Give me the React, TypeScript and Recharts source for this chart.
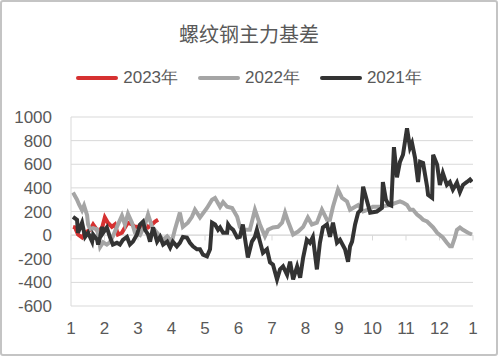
import React from 'react';
import { LineChart, Line, XAxis, YAxis, CartesianGrid, ReferenceLine } from 'recharts';

const title = '螺纹钢主力基差';
const seriesNames = ['2023年', '2022年', '2021年'];
const seriesColors = ['#d63131', '#a5a5a5', '#333333'];
const monthTicks = [0, 1, 2, 3, 4, 5, 6, 7, 8, 9, 10, 11, 12];
const monthLabels = ['1', '2', '3', '4', '5', '6', '7', '8', '9', '10', '11', '12', '1'];
const valueTicks = [-600, -400, -200, 0, 200, 400, 600, 800, 1000];

// [month offset from Jan 1, basis]
const s2023: [number, number][] = [
  [0.06, 70], [0.12, 65], [0.21, 5], [0.33, -20], [0.42, 20], [0.57, 45], [0.66, 90],
  [0.81, 30], [0.93, 65], [1.01, 150], [1.1, 105], [1.22, 70], [1.31, 90], [1.4, 5],
  [1.52, 20], [1.61, 65], [1.7, 105], [1.82, 90], [1.91, 70], [2.06, 70], [2.21, 90],
  [2.3, 65], [2.42, 90], [2.51, 115], [2.6, 130],
];

const s2022: [number, number][] = [
  [0.06, 360], [0.18, 300], [0.24, 260], [0.33, 210], [0.39, 250], [0.48, 170], [0.51, 90],
  [0.57, 50], [0.66, 60], [0.78, 50], [0.87, -100], [0.96, -60], [1.07, -80], [1.16, -60],
  [1.25, -10], [1.37, 70], [1.52, 165], [1.61, 90], [1.7, 180], [1.82, 105], [1.91, 20],
  [2.06, 0], [2.21, 90], [2.3, 175], [2.42, 70], [2.57, 20], [2.75, -40], [2.87, -10],
  [3.01, -55], [3.1, 45], [3.25, 190], [3.34, 70], [3.49, 105], [3.61, 155], [3.7, 215],
  [3.85, 150], [4.06, 230], [4.21, 300], [4.3, 315], [4.45, 240], [4.54, 280], [4.66, 240],
  [4.81, 230], [4.96, 155], [5.04, 70], [5.13, 45], [5.34, 45], [5.49, 215], [5.64, 90],
  [5.79, -10], [5.88, 45], [6.03, 65], [6.18, 70], [6.3, 105], [6.39, 190], [6.48, 115],
  [6.63, 5], [6.78, 30], [6.93, 70], [7.07, 150], [7.19, 90], [7.34, 105], [7.49, 215],
  [7.64, 130], [7.73, 130], [7.82, 240], [7.97, 385], [8.09, 315], [8.24, 285], [8.33, 215],
  [8.42, 230], [8.57, 255], [8.72, 200], [8.87, 215], [9.01, 240], [9.22, 240], [9.52, 255],
  [9.82, 285], [9.91, 275], [10.03, 255], [10.12, 215], [10.21, 215], [10.33, 175],
  [10.42, 155], [10.51, 130], [10.63, 115], [10.72, 90], [10.81, 65], [10.93, 20],
  [11.1, -20], [11.22, -65], [11.31, -95], [11.37, -95], [11.46, -20], [11.52, 45],
  [11.61, 65], [11.7, 45], [11.85, 20], [11.97, 5],
];

const s2021: [number, number][] = [
  [0.06, 155], [0.18, 130], [0.21, 20], [0.33, 105], [0.42, -15], [0.51, 20], [0.63, -55],
  [0.66, 5], [0.78, -40], [0.81, -80], [0.87, -15], [0.93, 70], [0.96, 20], [1.07, 65],
  [1.16, -15], [1.25, -80], [1.37, -65], [1.46, -80], [1.55, -40], [1.67, -15], [1.76, -80],
  [1.85, -55], [1.97, 5], [2.06, 90], [2.15, 115], [2.21, 45], [2.3, 5], [2.36, -55],
  [2.45, 65], [2.57, -55], [2.66, -15], [2.75, -80], [2.87, -55], [2.96, -105], [3.04, -55],
  [3.16, -95], [3.25, -65], [3.34, -15], [3.46, -20], [3.55, -65], [3.64, -95], [3.76, -120],
  [3.85, -120], [3.94, -165], [4.06, -180], [4.15, -120], [4.21, 105], [4.3, 90], [4.39, 45],
  [4.45, 65], [4.54, 20], [4.66, 20], [4.69, 90], [4.75, 65], [4.84, 45], [4.96, -20],
  [5.04, -15], [5.13, 90], [5.28, -190], [5.4, -55], [5.49, -15], [5.55, 45], [5.64, -55],
  [5.73, -150], [5.85, -120], [5.94, -230], [6.03, -250], [6.15, -375], [6.24, -290],
  [6.33, -265], [6.45, -335], [6.54, -225], [6.63, -375], [6.75, -265], [6.84, -360],
  [6.93, -190], [7.04, -40], [7.13, -65], [7.22, -15], [7.34, -290], [7.43, -65], [7.52, 65],
  [7.64, 90], [7.73, -15], [7.82, 105], [7.94, -65], [8.03, -40], [8.18, -120], [8.27, -225],
  [8.33, -95], [8.39, -55], [8.48, 90], [8.57, 190], [8.66, 215], [8.72, 410], [8.84, 285],
  [8.93, 190], [9.13, 200], [9.28, 230], [9.31, 450], [9.4, 300], [9.48, 260], [9.56, 250],
  [9.64, 745], [9.73, 490], [9.82, 620], [9.91, 680], [10.03, 905], [10.12, 740],
  [10.18, 780], [10.27, 655], [10.36, 450], [10.42, 620], [10.51, 610], [10.63, 410],
  [10.66, 340], [10.78, 315], [10.81, 680], [10.93, 595], [11.01, 425], [11.1, 525],
  [11.22, 425], [11.31, 450], [11.4, 385], [11.52, 445], [11.61, 365], [11.7, 425],
  [11.82, 450], [11.91, 470], [11.97, 450],
];

const seriesData = [s2023, s2022, s2021].map((s) => s.map(([m, v]) => ({ m, v })));

const font = '"Liberation Sans", Arial, sans-serif';
const textColor = '#595959';

export default function App() {
  return (
    <div
      style={{
        position: 'absolute',
        left: 0,
        top: 0,
        width: 498,
        height: 356,
        boxSizing: 'border-box',
        border: '2px solid #c4c4c4',
        borderRadius: 3,
        background: '#fff',
        fontFamily: font,
      }}
    >
      <div
        style={{
          position: 'absolute',
          left: -2,
          top: 17,
          width: 498,
          textAlign: 'center',
          fontSize: 20,
          color: textColor,
          fontFamily: '"Noto Sans CJK SC", sans-serif',
        }}
      >
        {title}
      </div>
      <div
        style={{
          position: 'absolute',
          left: -2,
          top: 64,
          width: 498,
          display: 'flex',
          justifyContent: 'center',
          gap: 20,
          fontSize: 17,
          color: textColor,
        }}
      >
        {seriesNames.map((name, i) => (
          <div key={name} style={{ display: 'flex', alignItems: 'center' }}>
            <span style={{ display: 'inline-block', width: 42, height: 4, borderRadius: 2, background: seriesColors[i], marginRight: 5 }} />
            <span>{name}</span>
          </div>
        ))}
      </div>
      <div style={{ position: 'absolute', left: -2, top: -2 }}>
        <LineChart width={498} height={356} margin={{ top: 117, right: 25, bottom: 20, left: 0 }}>
          <CartesianGrid vertical={false} stroke="#d9d9d9" />
          <XAxis
            type="number"
            dataKey="m"
            domain={[0, 12]}
            ticks={monthTicks}
            interval={0}
            tickFormatter={(t: number) => monthLabels[t]}
            axisLine={false}
            tickLine={false}
            tickSize={0}
            tickMargin={16}
            height={30}
            tick={{ fill: textColor, fontSize: 17, fontFamily: font }}
            allowDataOverflow
          />
          <YAxis
            type="number"
            domain={[-600, 1000]}
            ticks={valueTicks}
            interval={0}
            width={71}
            axisLine={{ stroke: '#d9d9d9' }}
            tickLine={false}
            tickSize={0}
            tickMargin={19}
            tick={{ fill: textColor, fontSize: 17, fontFamily: font }}
          />
          <ReferenceLine y={0} stroke="#d9d9d9" strokeWidth={1} />
          {monthTicks.map((t) => (
            <ReferenceLine
              key={t}
              segment={[{ x: t, y: 0 }, { x: t, y: -45 }]}
              stroke="#d9d9d9"
            />
          ))}
          {seriesData.map((d, i) => (
            <Line
              key={seriesNames[i]}
              data={d}
              dataKey="v"
              name={seriesNames[i]}
              type="linear"
              stroke={seriesColors[i]}
              strokeWidth={4}
              dot={false}
              isAnimationActive={false}
            />
          ))}
        </LineChart>
      </div>
    </div>
  );
}
